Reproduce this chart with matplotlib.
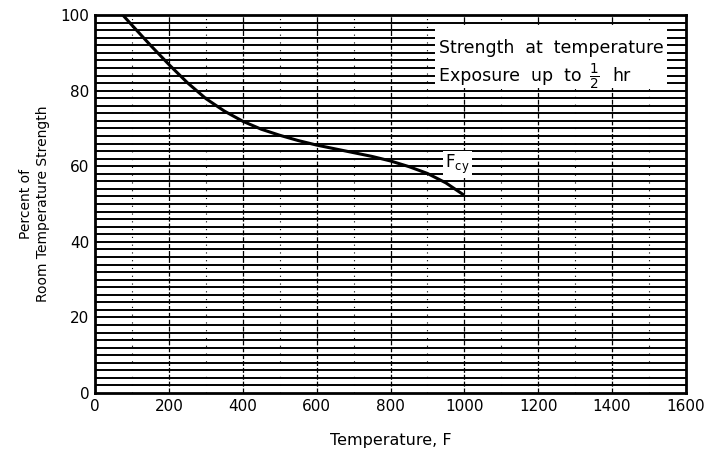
#!/usr/bin/env python3
"""
Strength at temperature curve (Fcy) on a dense chart-paper style grid.
"""

import matplotlib
matplotlib.use('Agg')
import matplotlib.pyplot as plt
from matplotlib.patches import Rectangle
import numpy as np

# Curve read point by point (temperature in F, percent of room temperature strength)
temperature = [75, 100, 150, 200, 250, 300, 350, 400, 450, 500, 550,
               600, 650, 700, 750, 800, 850, 900, 950, 1000]
percent = [100.0, 97.3, 92.0, 86.9, 82.1, 77.9, 74.6, 71.9, 69.8, 68.2, 66.8,
           65.6, 64.6, 63.6, 62.6, 61.4, 59.9, 58.1, 55.6, 52.3]

x_ticks = [0, 200, 400, 600, 800, 1000, 1200, 1400, 1600]
y_ticks = [0, 20, 40, 60, 80, 100]

plt.rcParams['font.family'] = ['DejaVu Sans']

fig = plt.figure(figsize=(7.1, 4.57), dpi=100)
ax = fig.add_axes([0.134, 0.140, 0.832, 0.827])

ax.set_xlim(0, 1600)
ax.set_ylim(0, 100)

# chart paper: heavy horizontal rules every 2 percent
for yv in np.arange(2, 100, 2):
    ax.axhline(yv, color='black', lw=1.4, zorder=1)
# vertical rules at 200 F, dotted marks at the odd hundreds
for xv in range(200, 1600, 200):
    ax.axvline(xv, color='black', lw=0.9, ls=(0, (4, 1.5)), zorder=1)
for xv in range(100, 1600, 200):
    ax.axvline(xv, color='black', lw=0.8, ls=(0, (1, 6)), zorder=1)

ax.plot(temperature, percent, color='black', lw=2.2, zorder=3,
        solid_capstyle='butt', solid_joinstyle='round')

# note box in the upper right corner
ax.add_patch(Rectangle((920, 80.8), 630, 16.6, facecolor='white',
                       edgecolor='none', zorder=2))
ax.text(932, 91.4, 'Strength  at  temperature', fontsize=12.5,
        va='center', ha='left', zorder=4)
ax.text(932, 84.0, 'Exposure  up  to', fontsize=12.5,
        va='center', ha='left', zorder=4)
ax.text(1353, 83.6, r'$\frac{1}{2}$', fontsize=14,
        va='center', ha='center', zorder=4)
ax.text(1400, 84.0, 'hr', fontsize=12.5,
        va='center', ha='left', zorder=4)

ax.text(948, 60.5, r'F$_{\mathregular{cy}}$', fontsize=12, va='center',
        ha='left', zorder=4,
        bbox=dict(facecolor='white', edgecolor='none', pad=1.5))

ax.set_xticks(x_ticks)
ax.set_yticks(y_ticks)
ax.tick_params(length=0, labelsize=11, pad=4)
for s in ax.spines.values():
    s.set_linewidth(2.0)

ax.set_xlabel('Temperature, F', fontsize=11.5, labelpad=14)
ax.set_ylabel('Percent of\nRoom Temperature Strength', fontsize=10,
              labelpad=8, linespacing=1.25)

fig.savefig('out.png', dpi=100)
